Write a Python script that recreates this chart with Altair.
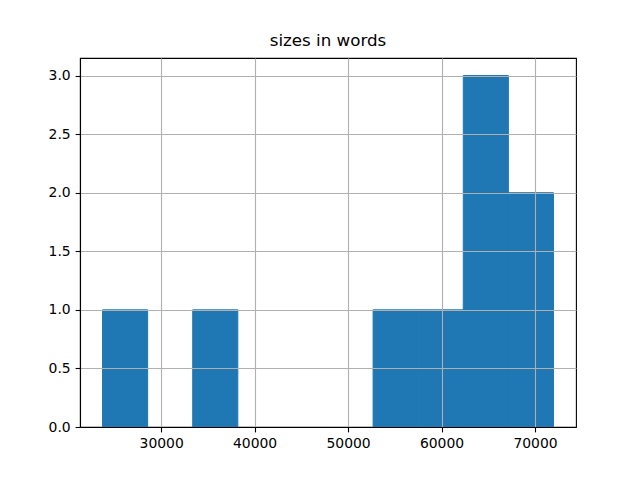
import altair as alt
import pandas as pd

# histogram bins (10 bins) of word counts
bin_start = [23731, 28556, 33381, 38205, 43030, 47855, 52680, 57504, 62329, 67154]
bin_end   = [28556, 33381, 38205, 43030, 47855, 52680, 57504, 62329, 67154, 71978]
counts    = [1, 0, 1, 0, 0, 0, 1, 1, 3, 2]

x_ticks = [30000, 40000, 50000, 60000, 70000]
y_ticks = [0.0, 0.5, 1.0, 1.5, 2.0, 2.5, 3.0]

df = pd.DataFrame({"start": bin_start, "end": bin_end, "count": counts})
df = df[df["count"] > 0]

xmin, xmax = 21319, 74390

axis_style = dict(title=None, grid=True,
                  gridColor="#b0b0b0", gridWidth=1.1, zindex=1,
                  domainColor="black", domainWidth=1.1,
                  tickColor="black", tickSize=4.9, tickWidth=1.1,
                  labelFont="DejaVu Sans", labelFontSize=13.9,
                  labelColor="black", labelPadding=4.9)

chart = alt.Chart(df).mark_rect(fill="#1f77b4", stroke="#1f77b4", strokeWidth=1,
                                 opacity=1, fillOpacity=1, strokeOpacity=1).encode(
    x=alt.X("start:Q",
            scale=alt.Scale(domain=[xmin, xmax], nice=False, zero=False),
            axis=alt.Axis(values=x_ticks, format="d", **axis_style)),
    x2="end:Q",
    y=alt.Y("count:Q",
            scale=alt.Scale(domain=[0, 3.15], nice=False),
            axis=alt.Axis(values=y_ticks, format=".1f", **axis_style)),
    y2=alt.datum(0),
).properties(
    width=496,
    height=369,
    title=alt.TitleParams("sizes in words", font="DejaVu Sans", fontSize=16.7,
                          fontWeight="normal", color="black", offset=8,
                          anchor="middle"),
    autosize=alt.AutoSizeParams(type="none"),
    padding={"left": 72, "top": 50, "right": 56, "bottom": 37},
    background="white",
).configure_view(
    stroke="black", strokeWidth=1.1
)

chart.save("out.html", embed_options={"renderer": "svg", "actions": False})
